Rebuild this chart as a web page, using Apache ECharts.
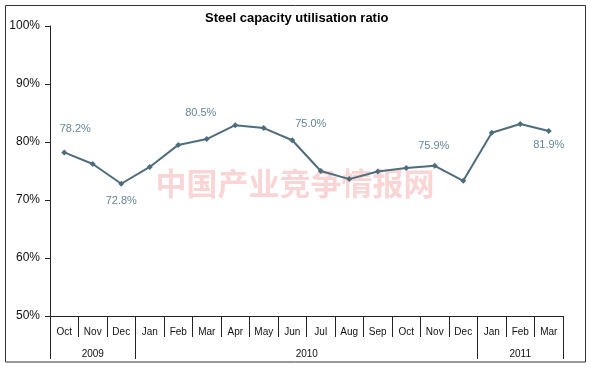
<!DOCTYPE html>
<html>
<head>
<meta charset="utf-8">
<script src="https://cdn.jsdelivr.net/npm/echarts@6/dist/echarts.min.js"></script>
<style>html,body{margin:0;padding:0;background:#fff;}#c{width:590px;height:367px;}</style>
</head>
<body>
<div id="c"></div>
<script>
const months = ['Oct','Nov','Dec','Jan','Feb','Mar','Apr','May','Jun','Jul','Aug','Sep','Oct','Nov','Dec','Jan','Feb','Mar'];
const years = ['2009','2010','2011'];
const yearStartIdx = [0, 3, 15];
const yearLabelIdx = [1, 9, 16];
const utilisation = [78.2, 76.2, 72.8, 75.7, 79.5, 80.5, 82.9, 82.4, 80.3, 75.0, 73.6, 74.9, 75.5, 75.9, 73.3, 81.6, 83.1, 81.9];
const labelledIdx = [0, 2, 5, 9, 13, 17];
const labelOffsets = [[11,-23],[0,17],[-6,-26],[-10,-47],[-1,-20],[0,14]];
const yTicks = [50, 60, 70, 80, 90, 100];

const chart = echarts.init(document.getElementById('c'), null, {renderer:'canvas'});
const font = 'Arial, "Liberation Sans", sans-serif';
const axisColor = '#222';

const seriesData = utilisation.map((v, i) => {
  const k = labelledIdx.indexOf(i);
  if (k < 0) return v;
  return {
    value: v,
    label: {
      show: true, position: 'inside', offset: labelOffsets[k],
      formatter: p => p.value.toFixed(1) + '%',
      color: '#64869a', fontSize: 11, fontFamily: font
    }
  };
});

chart.setOption({
  backgroundColor: '#fff',
  animation: false,
  title: {
    text: 'Steel capacity utilisation ratio',
    left: 200, top: 7,
    textStyle: {fontSize: 13, fontWeight: 'bold', color: '#000', fontFamily: font}
  },
  grid: {left: 50, right: 27, top: 26, bottom: 51},
  xAxis: [{
    type: 'category', data: months, boundaryGap: true, position: 'bottom',
    axisLine: {show: true, lineStyle: {color: axisColor, width: 1}},
    axisTick: {show: true, interval: 0, length: 21, lineStyle: {color: axisColor}},
    axisLabel: {interval: 0, margin: 11, fontSize: 10, color: '#111', fontFamily: font}
  }, {
    type: 'category', data: months, boundaryGap: true, position: 'bottom',
    axisLine: {show: false},
    axisTick: {show: true, length: 43, lineStyle: {color: axisColor},
      interval: (i) => yearStartIdx.indexOf(i) >= 0},
    axisLabel: {
      margin: 33, fontSize: 10, color: '#111', fontFamily: font,
      interval: (i) => yearLabelIdx.indexOf(i) >= 0,
      formatter: (v, i) => {
        const k = yearLabelIdx.indexOf(i);
        if (k < 0) return '';
        return k === 1 ? '{s|' + years[k] + '}' : years[k];
      },
      rich: {s: {fontSize: 10, color: '#111', fontFamily: font, padding: [0, 28, 0, 0]}}
    }
  }],
  yAxis: {
    type: 'value', min: yTicks[0], max: yTicks[yTicks.length-1], interval: 10,
    axisLine: {show: true, lineStyle: {color: axisColor}},
    axisTick: {show: true, length: 5, lineStyle: {color: axisColor}},
    axisLabel: {margin: 10, fontSize: 12, color: '#111', fontFamily: font, formatter: '{value}%'},
    splitLine: {show: false}
  },
  graphic: [{
    type: 'rect', shape: {x: 5.5, y: 5.5, width: 580, height: 356.5},
    style: {fill: 'none', stroke: '#333', lineWidth: 1}, z: 100, silent: true
  }, {
    type: 'text', left: 'center', top: 168, z: -1, silent: true,
    style: {text: '中国产业竞争情报网', fontSize: 31, fontWeight: 'bold',
      fontFamily: '"Noto Sans CJK SC", sans-serif', fill: 'rgba(240,150,150,0.4)'}
  }],
  series: [{
    type: 'line', data: seriesData, xAxisIndex: 0,
    symbol: 'diamond', symbolSize: 6,
    lineStyle: {color: '#4e6d7c', width: 2},
    itemStyle: {color: '#4e6d7c'},
    z: 5
  }]
});
</script>
</body>
</html>
